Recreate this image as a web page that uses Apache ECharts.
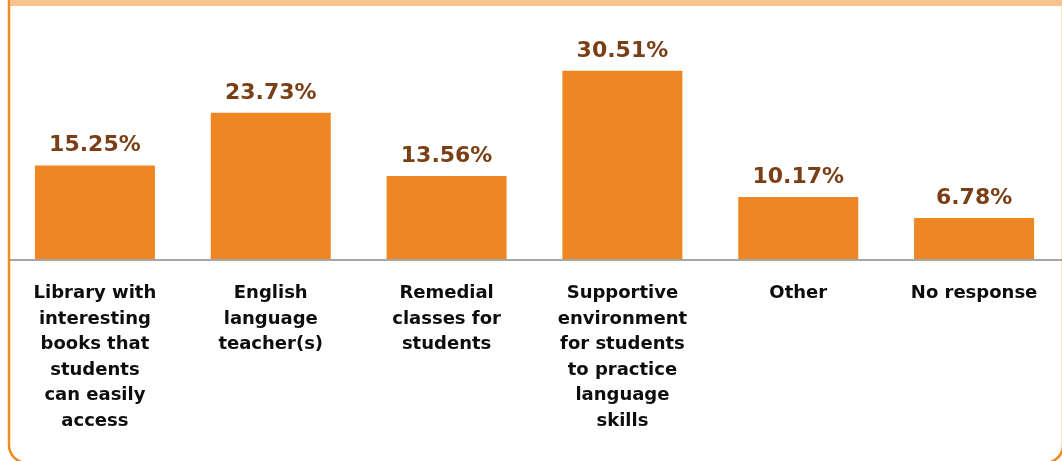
<!DOCTYPE html>
<html>
<head>
<meta charset="utf-8">
<script src="https://cdn.jsdelivr.net/npm/echarts@6/dist/echarts.min.js"></script>
<style>
  html, body { margin: 0; padding: 0; background: #ffffff; }
  #chart { width: 1062px; height: 461px; }
</style>
</head>
<body>
<div id="chart"></div>
<script>
// Survey responses: what would help students improve their English
const categories = [
  'Library with\ninteresting\nbooks that\nstudents\ncan easily\naccess',
  'English\nlanguage\nteacher(s)',
  'Remedial\nclasses for\nstudents',
  'Supportive\nenvironment\nfor students\nto practice\nlanguage\nskills',
  'Other',
  'No response'
];
const shares = [15.25, 23.73, 13.56, 30.51, 10.17, 6.78];

const chart = echarts.init(document.getElementById('chart'), null, { renderer: 'canvas' });

chart.setOption({
  animation: false,
  backgroundColor: '#ffffff',
  grid: { left: 7, right: -7, top: 43, bottom: 201, containLabel: false },
  xAxis: {
    type: 'category',
    data: categories,
    axisLine: { show: false },
    axisTick: { show: false },
    axisLabel: {
      interval: 0,
      margin: 21,
      color: '#0d0d0d',
      fontFamily: 'DejaVu Sans',
      fontWeight: 'bold',
      fontSize: 18,
      lineHeight: 25.5,
      align: 'center',
      verticalAlign: 'top'
    }
  },
  yAxis: {
    type: 'value',
    min: 0,
    max: 35,
    show: false,
    splitLine: { show: false }
  },
  graphic: [
    // baseline under the bars
    { type: 'line', z: 10, shape: { x1: 10, y1: 260, x2: 1062, y2: 260 },
      style: { stroke: '#a6a6a6', lineWidth: 2 } },
    // panel frame with rounded lower corners
    { type: 'rect', z: 20, shape: { x: 9, y: -20, width: 1054, height: 483, r: 18 },
      style: { fill: 'none', stroke: '#ef8a25', lineWidth: 2.5 } },
    // light header band
    { type: 'rect', z: 21, shape: { x: 10, y: 0, width: 1052, height: 6 },
      style: { fill: '#f7c28e' } }
  ],
  series: [{
    type: 'bar',
    data: shares,
    barWidth: 120,
    itemStyle: { color: '#ee8624' },
    label: {
      show: true,
      position: 'top',
      distance: 9,
      formatter: p => p.value.toFixed(2) + '%',
      color: '#7b3f16',
      fontFamily: 'DejaVu Sans',
      fontWeight: 'bold',
      fontSize: 22
    }
  }]
});
</script>
</body>
</html>
